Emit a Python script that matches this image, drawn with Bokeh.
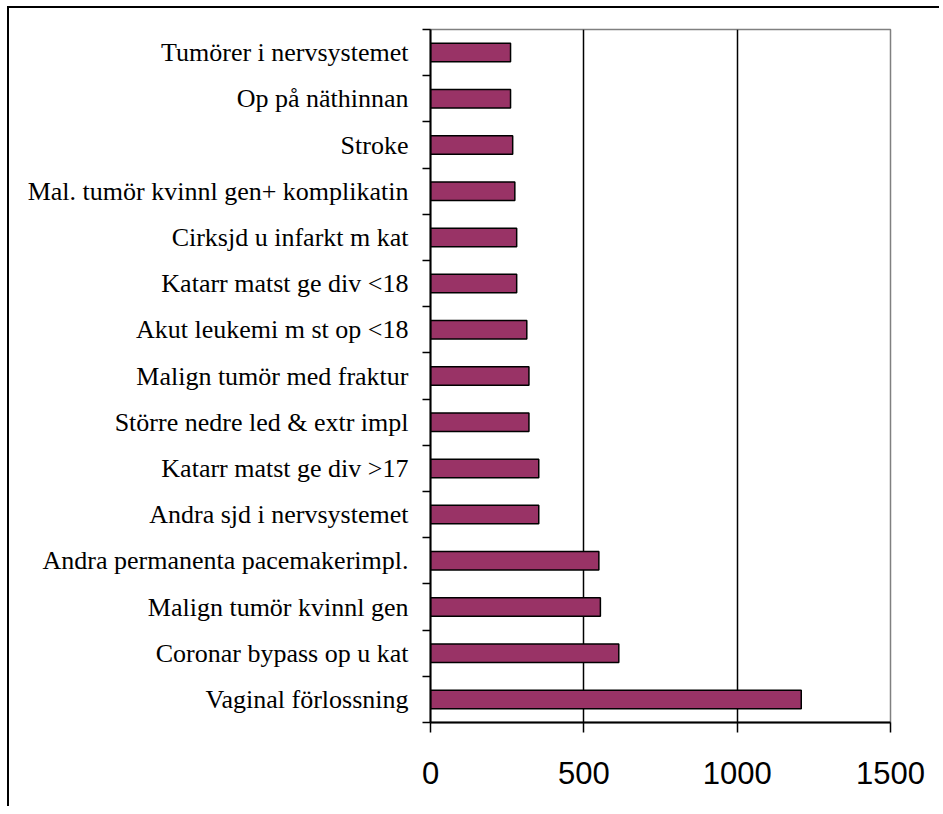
from bokeh.plotting import figure
from bokeh.models import FixedTicker, ColumnDataSource, Range1d
from bokeh.embed import file_html
from bokeh.resources import INLINE

# Categories from top to bottom as shown
categories = [
    "Tumörer i nervsystemet",
    "Op på näthinnan",
    "Stroke",
    "Mal. tumör kvinnl gen+ komplikatin",
    "Cirksjd u infarkt m kat",
    "Katarr matst ge div <18",
    "Akut leukemi m st op <18",
    "Malign tumör med fraktur",
    "Större nedre led & extr impl",
    "Katarr matst ge div >17",
    "Andra sjd i nervsystemet",
    "Andra permanenta pacemakerimpl.",
    "Malign tumör kvinnl gen",
    "Coronar bypass op u kat",
    "Vaginal förlossning",
]
values = [261, 261, 268, 275, 281, 281, 314, 321, 321, 353, 353, 549, 554, 614, 1209]
x_ticks = [0, 500, 1000, 1500]

n = len(categories)
ypos = [n - 1 - i + 0.5 for i in range(n)]
src = ColumnDataSource(dict(y=ypos, v=values, cat=categories))

p = figure(width=932, height=800, output_backend="svg", toolbar_location=None,
           x_range=Range1d(0, 1500), y_range=Range1d(0, n),
           min_border_left=421, min_border_right=51, min_border_top=21, min_border_bottom=86)
p.styles = {"border-left": "2px solid black", "border-top": "2px solid black",
            "margin-left": "7px", "margin-top": "6px"}

p.hbar(y="y", right="v", left=0, height=0.4, source=src,
       fill_color="#993366", line_color="black", line_width=1.5)

p.outline_line_color = "#808080"
p.outline_line_width = 1.5

# x axis
xa = p.xaxis[0]
xa.ticker = FixedTicker(ticks=x_ticks)
xa.axis_line_color = "black"
xa.axis_line_width = 2
xa.major_tick_out = 10
xa.major_tick_in = 0
xa.major_tick_line_color = "black"
xa.major_tick_line_width = 1.5
xa.minor_tick_line_color = None
xa.major_label_text_font = "Liberation Sans"
xa.major_label_text_font_size = "31px"
xa.major_label_text_color = "black"
xa.major_label_standoff = 29

# y axis: labels at centers, ticks at boundaries
ya = p.yaxis[0]
ya.ticker = FixedTicker(ticks=ypos, minor_ticks=list(range(n + 1)))
ya.major_label_overrides = {y: c for y, c in zip(ypos, categories)}
ya.axis_line_color = "black"
ya.axis_line_width = 2
ya.major_tick_out = 0
ya.major_tick_in = 0
ya.major_tick_line_color = None
ya.minor_tick_out = 8
ya.minor_tick_in = 0
ya.minor_tick_line_color = "black"
ya.minor_tick_line_width = 1.5
ya.major_label_text_font = "Liberation Serif"
ya.major_label_text_font_size = "26px"
ya.major_label_text_color = "black"
ya.major_label_standoff = 14

p.xgrid.ticker = FixedTicker(ticks=[500, 1000])
p.xgrid.grid_line_color = "black"
p.xgrid.grid_line_width = 1.5
p.ygrid.visible = False

open("out.html", "w").write(file_html(p, INLINE))
